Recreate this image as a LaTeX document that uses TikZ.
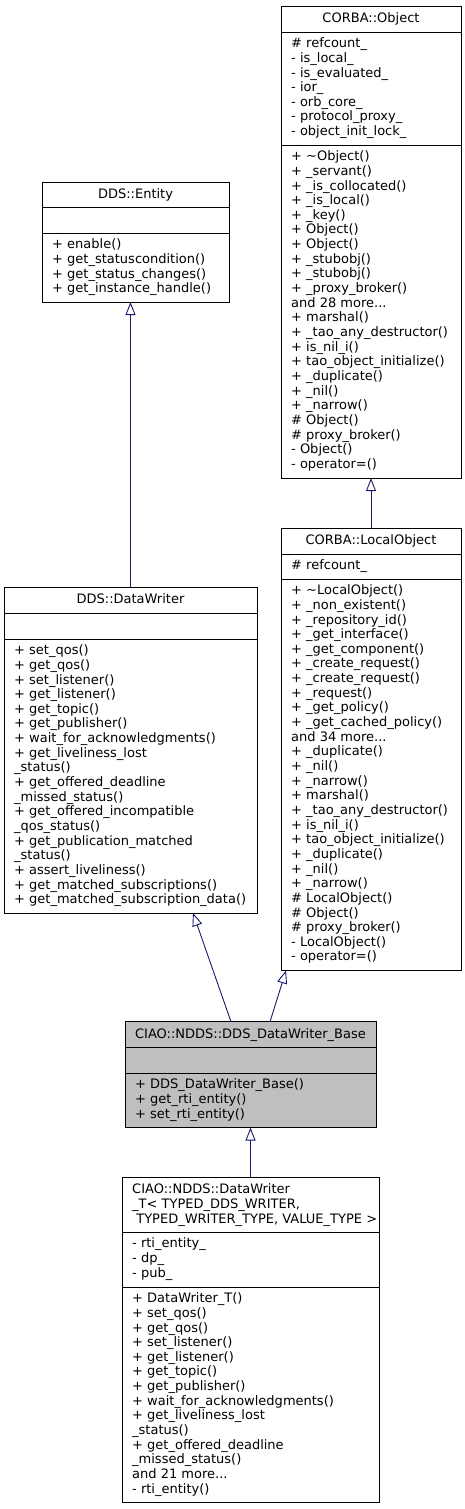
\documentclass[tikz,border=0pt]{standalone}
\usepackage{fontspec}
\setmainfont{DejaVu Sans}
\usetikzlibrary{arrows.meta,calc}
\definecolor{edgeblue}{HTML}{191970}
\definecolor{basegray}{HTML}{BFBFBF}
\newcommand\txtfont{\fontsize{13}{14.65}\selectfont}
\tikzset{
  box/.style={draw=black, line width=0.9pt, fill=white, inner sep=0pt, outer sep=0pt, anchor=north west},
  sect/.style={inner sep=0pt, anchor=north west, align=left, font=\txtfont},
  ttl/.style={inner sep=0pt, anchor=north, align=center, font=\txtfont},
  sepline/.style={draw=black, line width=0.9pt},
  inh/.style={draw=edgeblue, line width=0.9pt, -{Triangle[open, length=13pt, width=10pt]}},
}
\begin{document}
\begin{tikzpicture}[x=1pt,y=-1pt]
\useasboundingbox (0,0) rectangle (465,1509);

% ---------- CORBA::Object ----------
\node[box, minimum width=180, minimum height=472] (obj) at (281,6) {};
\draw[sepline] (281,32) -- (461,32);
\draw[sepline] (281,145) -- (461,145);
\node[ttl] (objT) at (371,12.25) {\strut CORBA::Object};
\node[sect] (objA) at (291,37.25) {\strut\# refcount\_\\- is\_local\_\\- is\_evaluated\_\\- ior\_\\- orb\_core\_\\- protocol\_proxy\_\\- object\_init\_lock\_};
\node[sect] (objM) at (291,150.25) {\strut+ \textasciitilde Object()\\+ \_servant()\\+ \_is\_collocated()\\+ \_is\_local()\\+ \_key()\\+ Object()\\+ Object()\\+ \_stubobj()\\+ \_stubobj()\\+ \_proxy\_broker()\\and 28 more...\\+ marshal()\\+ \_tao\_any\_destructor()\\+ is\_nil\_i()\\+ tao\_object\_initialize()\\+ \_duplicate()\\+ \_nil()\\+ \_narrow()\\\# Object()\\\# proxy\_broker()\\- Object()\\- operator=()};

% ---------- CORBA::LocalObject ----------
\node[box, minimum width=180, minimum height=442.5] (lobj) at (281,528) {};
\draw[sepline] (281,554) -- (461,554);
\draw[sepline] (281,579) -- (461,579);
\node[ttl] (lobjT) at (371,534.25) {\strut CORBA::LocalObject};
\node[sect] (lobjA) at (291,559.25) {\strut\# refcount\_};
\node[sect] (lobjM) at (291,584.25) {\strut+ \textasciitilde LocalObject()\\+ \_non\_existent()\\+ \_repository\_id()\\+ \_get\_interface()\\+ \_get\_component()\\+ \_create\_request()\\+ \_create\_request()\\+ \_request()\\+ \_get\_policy()\\+ \_get\_cached\_policy()\\and 34 more...\\+ \_duplicate()\\+ \_nil()\\+ \_narrow()\\+ marshal()\\+ \_tao\_any\_destructor()\\+ is\_nil\_i()\\+ tao\_object\_initialize()\\+ \_duplicate()\\+ \_nil()\\+ \_narrow()\\\# LocalObject()\\\# Object()\\\# proxy\_broker()\\- LocalObject()\\- operator=()};

% ---------- DDS::Entity ----------
\node[box, minimum width=187, minimum height=119.5] (ent) at (42,182.5) {};
\draw[sepline] (42,207) -- (229,207);
\draw[sepline] (42,233) -- (229,233);
\node[ttl] (entT) at (135.5,188.5) {\strut DDS::Entity};
\node[sect] (entM) at (52,238.25) {\strut+ enable()\\+ get\_statuscondition()\\+ get\_status\_changes()\\+ get\_instance\_handle()};

% ---------- DDS::DataWriter ----------
\node[box, minimum width=253, minimum height=326] (dw) at (4,587) {};
\draw[sepline] (4,613) -- (257,613);
\draw[sepline] (4,639) -- (257,639);
\node[ttl] (dwT) at (130.5,593.25) {\strut DDS::DataWriter};
\node[sect] (dwM) at (14,644.25) {\strut+ set\_qos()\\+ get\_qos()\\+ set\_listener()\\+ get\_listener()\\+ get\_topic()\\+ get\_publisher()\\+ wait\_for\_acknowledgments()\\+ get\_liveliness\_lost\\\_status()\\+ get\_offered\_deadline\\\_missed\_status()\\+ get\_offered\_incompatible\\\_qos\_status()\\+ get\_publication\_matched\\\_status()\\+ assert\_liveliness()\\+ get\_matched\_subscriptions()\\+ get\_matched\_subscription\_data()};

% ---------- CIAO::NDDS::DDS_DataWriter_Base ----------
\node[box, fill=basegray, minimum width=251, minimum height=106] (base) at (125,1021.5) {};
\draw[sepline] (125,1047) -- (376,1047);
\draw[sepline] (125,1073) -- (376,1073);
\node[ttl] (baseT) at (250.5,1027.75) {\strut CIAO::NDDS::DDS\_DataWriter\_Base};
\node[sect] (baseM) at (135,1078.25) {\strut+ DDS\_DataWriter\_Base()\\+ get\_rti\_entity()\\+ set\_rti\_entity()};

% ---------- CIAO::NDDS::DataWriter_T ----------
\node[box, minimum width=257, minimum height=325.5] (dwt) at (122,1177) {};
\draw[sepline] (122,1232) -- (379,1232);
\draw[sepline] (122,1287) -- (379,1287);
\node[sect] (dwtT) at (132,1183.5) {\strut CIAO::NDDS::DataWriter\\\_T< TYPED\_DDS\_WRITER,\\\ TYPED\_WRITER\_TYPE, VALUE\_TYPE >};
\node[sect] (dwtA) at (132,1237.25) {\strut- rti\_entity\_\\- dp\_\\- pub\_};
\node[sect] (dwtM) at (132,1292.25) {\strut+ DataWriter\_T()\\+ set\_qos()\\+ get\_qos()\\+ set\_listener()\\+ get\_listener()\\+ get\_topic()\\+ get\_publisher()\\+ wait\_for\_acknowledgments()\\+ get\_liveliness\_lost\\\_status()\\+ get\_offered\_deadline\\\_missed\_status()\\and 21 more...\\- rti\_entity()};

% ---------- inheritance connectors ----------
\draw[inh] (lobj.north) -- (obj.south);
\draw[inh] (dw.north) -- (dw.north |- ent.south);
\draw[inh] ($(base.north west)!0.422!(base.north east)$) -- ($(dw.south west)!0.747!(dw.south east)$);
\draw[inh] ($(base.north west)!0.578!(base.north east)$) -- ($(lobj.south west)!0.028!(lobj.south east)$);
\draw[inh] (dwt.north) -- (base.south);
\end{tikzpicture}
\end{document}
